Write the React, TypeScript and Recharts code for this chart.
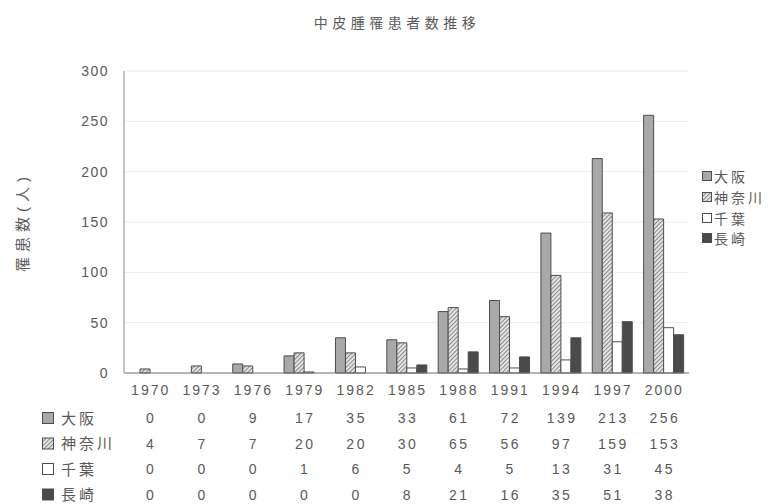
import { BarChart, Bar, XAxis, YAxis, CartesianGrid, Legend } from "recharts";

const years = ["1970", "1973", "1976", "1979", "1982", "1985", "1988", "1991", "1994", "1997", "2000"];
const osaka = [0, 0, 9, 17, 35, 33, 61, 72, 139, 213, 256];
const kanagawa = [4, 7, 7, 20, 20, 30, 65, 56, 97, 159, 153];
const chiba = [0, 0, 0, 1, 6, 5, 4, 5, 13, 31, 45];
const nagasaki = [0, 0, 0, 0, 0, 8, 21, 16, 35, 51, 38];
const yTicks = [0, 50, 100, 150, 200, 250, 300];

const seriesKeys = ["osaka", "kanagawa", "chiba", "nagasaki"];
const seriesNames = ["大阪", "神奈川", "千葉", "長崎"];
const seriesValues = [osaka, kanagawa, chiba, nagasaki];

const data = years.map((year, i) => ({
  year,
  osaka: osaka[i],
  kanagawa: kanagawa[i],
  chiba: chiba[i],
  nagasaki: nagasaki[i],
}));

const FONT = '"Liberation Sans", Arial, "Noto Sans CJK JP", sans-serif';
const TEXT = "#5a5a5a";
const EDGE = "#4d4d4d";
const FILLS = ["#a9a9a9", "url(#hatch)", "#ffffff", "#4a4a4a"];
// plot area: top 71, height 302
const PLOT_MID = 71 + 302 / 2;

const YTick = (props: any) => {
  const { x, y, payload } = props;
  return (
    <text x={x - 15} y={y} dy={5} textAnchor="end" fill={TEXT} fontSize={14} letterSpacing={1.5} fontFamily={FONT}>
      {payload.value}
    </text>
  );
};

const YearTick = (props: any) => {
  const { x, y, payload } = props;
  return (
    <text x={x + 1} y={y + 22} textAnchor="middle" fill={TEXT} fontSize={14} letterSpacing={2} fontFamily={FONT}>
      {payload.value}
    </text>
  );
};

const makeRowTick = (row: number) => (props: any) => {
  const { x, y, payload } = props;
  const idx = years.indexOf(String(payload.value));
  const cy = y + 16;
  return (
    <g>
      {idx === 0 && (
        <g>
          <rect x={42.5} y={cy - 5.5} width={11} height={11} fill={FILLS[row]} stroke={EDGE} />
          <text x={61} y={cy + 5.5} fill={TEXT} fontSize={15} letterSpacing={3} fontFamily={FONT}>
            {seriesNames[row]}
          </text>
        </g>
      )}
      <text x={x + 1.5} y={cy + 5} textAnchor="middle" fill={TEXT} fontSize={14} letterSpacing={2.5} fontFamily={FONT}>
        {seriesValues[row][idx]}
      </text>
    </g>
  );
};

const YLabel = () => {
  const x = 22;
  const cy = PLOT_MID;
  return (
    <text
      x={x}
      y={cy}
      transform={`rotate(-90 ${x} ${cy})`}
      textAnchor="middle"
      dominantBaseline="central"
      fill={TEXT}
      fontSize={15}
      letterSpacing={5}
      fontFamily={FONT}
    >
      罹患数(人)
    </text>
  );
};

const LegendBox = () => (
  <div style={{ fontFamily: FONT, fontSize: 14, color: TEXT, letterSpacing: 3 }}>
    {seriesNames.map((n, i) => (
      <div key={n} style={{ height: 20.7, display: "flex", alignItems: "center", whiteSpace: "nowrap" }}>
        <svg width={10} height={10} style={{ marginRight: 2 }}>
          <rect x={0.5} y={0.5} width={9} height={9} fill={FILLS[i]} stroke={EDGE} />
        </svg>
        {n}
      </div>
    ))}
  </div>
);

export default function App() {
  return (
    <div style={{ position: "absolute", left: 0, top: 0, width: 776, height: 504, background: "#fff" }}>
      <div
        style={{
          position: "absolute",
          left: 297,
          top: 13,
          width: 200,
          textAlign: "center",
          fontFamily: FONT,
          fontSize: 14,
          letterSpacing: 4.5,
          color: TEXT,
          lineHeight: "20px",
        }}
      >
        中皮腫罹患者数推移
      </div>
      <BarChart
        width={776}
        height={504}
        data={data}
        margin={{ top: 71, right: 87, bottom: 0, left: 84 }}
        barGap={0}
        barCategoryGap="12%"
      >
        <defs>
          <pattern id="hatch" width="3" height="3" patternUnits="userSpaceOnUse" patternTransform="rotate(45)">
            <rect width="3" height="3" fill="#e6e6e6" />
            <line x1="0.5" y1="0" x2="0.5" y2="3" stroke="#8a8a8a" strokeWidth="1.1" />
          </pattern>
        </defs>
        <CartesianGrid vertical={false} stroke="#ececec" />
        <XAxis
          dataKey="year"
          height={29}
          interval={0}
          axisLine={{ stroke: "#777" }}
          tickLine={false}
          tickSize={0}
          tickMargin={0}
          tick={YearTick}
        />
        {seriesKeys.map((k, r) => (
          <XAxis
            key={k}
            xAxisId={`row${r + 1}`}
            dataKey="year"
            height={25.5}
            interval={0}
            axisLine={false}
            tickLine={false}
            tickSize={0}
            tickMargin={0}
            tick={makeRowTick(r)}
          />
        ))}
        <XAxis xAxisId="top" orientation="top" dataKey="year" height={0} tick={false} tickLine={false} axisLine={{ stroke: "#b3b3b3" }} />
        <YAxis
          width={40}
          domain={[0, 300]}
          ticks={yTicks}
          interval={0}
          axisLine={{ stroke: "#8c8c8c" }}
          tickLine={false}
          tickSize={0}
          tickMargin={0}
          tick={YTick}
          label={<YLabel />}
        />
        <YAxis yAxisId="right" orientation="right" width={0} domain={[0, 300]} tick={false} tickLine={false} axisLine={{ stroke: "#b3b3b3" }} />
        <Legend
          layout="vertical"
          align="center"
          verticalAlign="middle"
          content={<LegendBox />}
          wrapperStyle={{ left: 702, top: 166, width: 76 }}
        />
        {seriesKeys.map((k, i) => (
          <Bar
            key={k}
            dataKey={k}
            name={seriesNames[i]}
            fill={FILLS[i]}
            stroke={EDGE}
            strokeWidth={1}
            barSize={10}
            isAnimationActive={false}
          />
        ))}
      </BarChart>
    </div>
  );
}
